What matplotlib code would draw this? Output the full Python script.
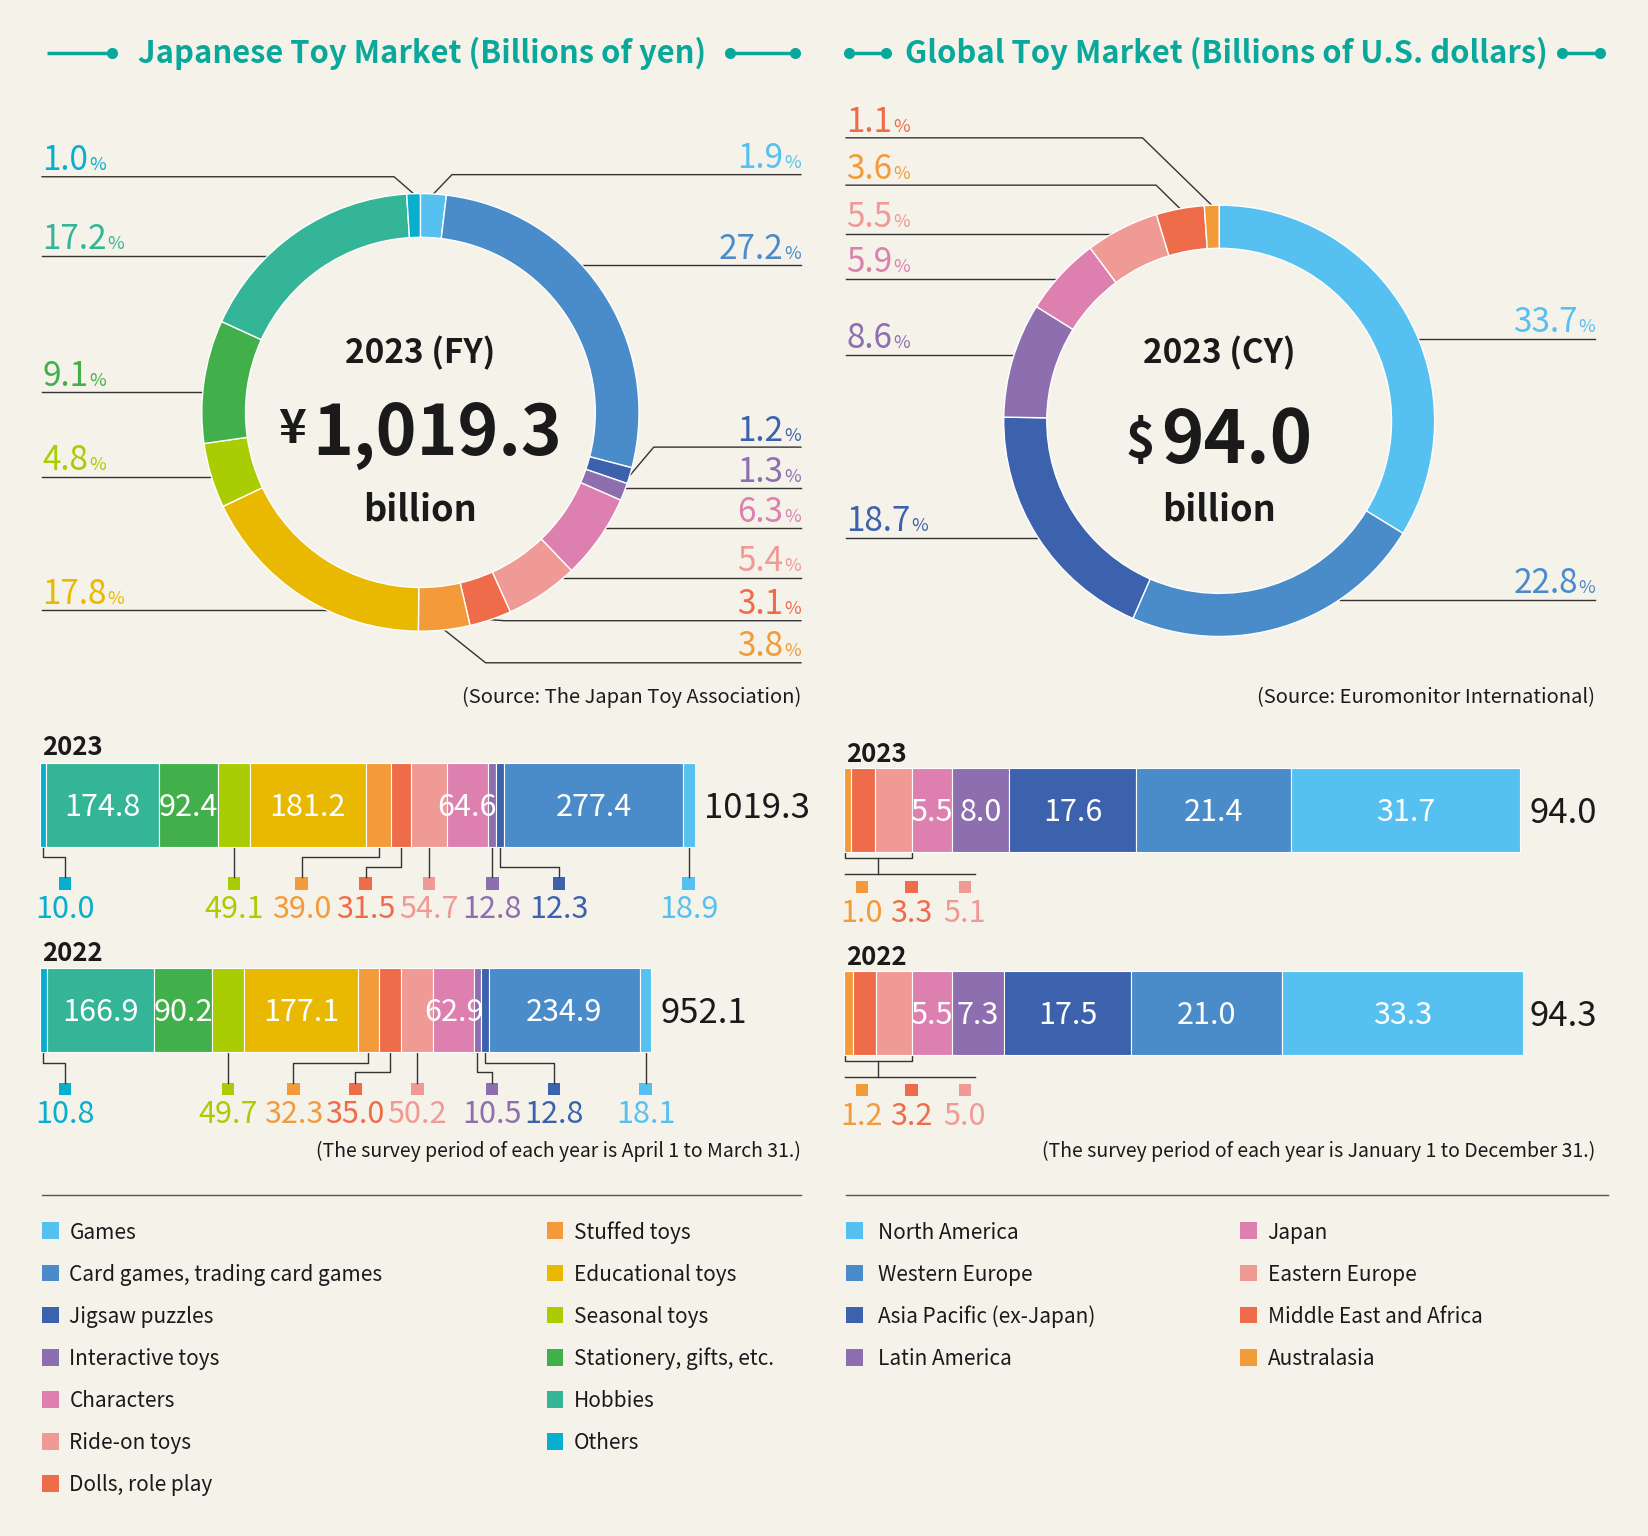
import numpy as np
import matplotlib
matplotlib.use('Agg')
import matplotlib.pyplot as plt
from matplotlib.patches import Rectangle

plt.rcParams['font.family'] = ['Noto Sans CJK JP', 'DejaVu Sans']

BG = '#F5F2EA'
TEAL = '#0AA89B'
INK = '#1a1a1a'
LINE = '#333333'

# ---------------- data: Japanese toy market ----------------
jp_cats = ['Games', 'Card games, trading card games', 'Jigsaw puzzles', 'Interactive toys',
           'Characters', 'Ride-on toys', 'Dolls, role play', 'Stuffed toys', 'Educational toys',
           'Seasonal toys', 'Stationery, gifts, etc.', 'Hobbies', 'Others']
jp_colors = ['#56C1F0', '#4A8CCA', '#3C62AE', '#8D6FAF', '#DD80B0', '#F09A96', '#EE6C4A',
             '#F39B3A', '#E9B800', '#AACC03', '#42B04A', '#35B597', '#07AECD']
jp_share = [1.9, 27.2, 1.2, 1.3, 6.3, 5.4, 3.1, 3.8, 17.8, 4.8, 9.1, 17.2, 1.0]
jp_2023 = [18.9, 277.4, 12.3, 12.8, 64.6, 54.7, 31.5, 39.0, 181.2, 49.1, 92.4, 174.8, 10.0]
jp_2022 = [18.1, 234.9, 12.8, 10.5, 62.9, 50.2, 35.0, 32.3, 177.1, 49.7, 90.2, 166.9, 10.8]
jp_totals = ['1019.3', '952.1']
jp_years = ['2023', '2022']

# ---------------- data: global toy market ----------------
gl_cats = ['North America', 'Western Europe', 'Asia Pacific (ex-Japan)', 'Latin America',
           'Japan', 'Eastern Europe', 'Middle East and Africa', 'Australasia']
gl_colors = ['#56C1F0', '#4A8CCA', '#3C62AE', '#8D6FAF', '#DD80B0', '#F09A96', '#EE6C4A', '#F39B3A']
gl_share = [33.7, 22.8, 18.7, 8.6, 5.9, 5.5, 3.6, 1.1]
gl_2023 = [31.7, 21.4, 17.6, 8.0, 5.5, 5.1, 3.3, 1.0]
gl_2022 = [33.3, 21.0, 17.5, 7.3, 5.5, 5.0, 3.2, 1.2]
gl_totals = ['94.0', '94.3']
gl_years = ['2023', '2022']

# ---------------- layout (page grid 1568 x 1460) ----------------
W, H = 1568, 1460
PX = W / 1648.0

# donut leader lines: (side, y of line, x of elbow or None)
jp_leaders = [('R', 166, 430), ('R', 252, None), ('R', 425, 622), ('R', 464, None),
              ('R', 502, None), ('R', 549, None), ('R', 590, 480), ('R', 630, 462),
              ('L', 580, None), ('L', 453, None), ('L', 373, None), ('L', 243, None),
              ('L', 168, 375)]
gl_leaders = [('R', 322, None), ('R', 570, None), ('L', 511, None), ('L', 337, None),
              ('L', 265, None), ('L', 222, None), ('L', 176, 1100), ('L', 131, 1087)]
gl_label_colors = gl_colors[:6] + [gl_colors[7], gl_colors[6]]  # as printed in the original

jp_inside = [1, 4, 8, 10, 11]
gl_inside = [0, 1, 2, 3, 4]
# small labels under the Japanese bars: index -> (label x, elbow level)
jp_below = [{12: (62, 1), 9: (None, 0), 7: (287, 1), 6: (348, 2), 5: (None, 0),
             3: (None, 0), 2: (532, 2), 0: (None, 0)},
            {12: (62, 1), 9: (None, 0), 7: (279, 1), 6: (338, 2), 5: (None, 0),
             3: (468, 2), 2: (527, 1), 0: (None, 0)}]
gl_group = [7, 6, 5]
gl_group_x = [820, 867, 918]

fig = plt.figure(figsize=(16.48, 15.36), dpi=100)
fig.patch.set_facecolor(BG)
pg = fig.add_axes([0, 0, 1, 1])
pg.set_xlim(0, W)
pg.set_ylim(H, 0)
pg.axis('off')
R = fig.canvas.get_renderer()


def cap(pt):
    # cap height of the font in page units
    return 0.733 * pt * 100 / 72 * PX


def width_of(t):
    return t.get_window_extent(R).width * PX


def to_page(ax, xy):
    return pg.transData.inverted().transform(ax.transData.transform(xy))


def page_axes(x0, y0, x1, y1):
    ax = fig.add_axes([x0 / W, 1 - y1 / H, (x1 - x0) / W, (y1 - y0) / H])
    ax.set_ylim(y1, y0)
    ax.axis('off')
    return ax


def pct_text(x, y, num, color, side):
    if side == 'L':
        t = pg.text(x, y, num, ha='left', va='baseline', fontsize=24, color=color)
        pg.text(x + width_of(t) + 1, y, '%', ha='left', va='baseline', fontsize=13, color=color)
    else:
        p = pg.text(x, y, '%', ha='right', va='baseline', fontsize=13, color=color)
        pg.text(x - width_of(p) - 1, y, num, ha='right', va='baseline', fontsize=24, color=color)


def title(cx, text, decos):
    y = 50
    pg.text(cx, 60, text, ha='center', va='baseline', fontsize=22.3, fontweight='bold', color=TEAL)
    for x0, x1, dots in decos:
        pg.plot([x0, x1], [y, y], color=TEAL, lw=2.5, solid_capstyle='butt')
        pg.plot(dots, [y] * len(dots), 'o', color=TEAL, ms=8, mew=0)


def donut(cx, cy, r, shares, colors, leaders, lab_colors, xl, xr):
    ax = fig.add_axes([(cx - r) / W, 1 - (cy + r) / H, 2 * r / W, 2 * r / H])
    ax.pie(shares, colors=colors, startangle=90, counterclock=False, radius=1,
           wedgeprops=dict(width=0.2, edgecolor='white', linewidth=1))
    ax.set_xlim(-1, 1)
    ax.set_ylim(-1, 1)
    ax.set_aspect('auto')
    ax.axis('off')
    c = to_page(ax, (0, 0))
    rp = to_page(ax, (1, 0))[0] - c[0]
    total = sum(shares)
    cum = 0
    for v, col, (side, ly, ex) in zip(shares, lab_colors, leaders):
        th = np.deg2rad(90 - 360 * (cum + v / 2) / total)
        cum += v
        xs = xl if side == 'L' else xr
        if ex is None:
            dx = np.sqrt(max(rp ** 2 - (ly - c[1]) ** 2, 0))
            xe = c[0] - dx if side == 'L' else c[0] + dx
            px, py = [xs, xe], [ly, ly]
        else:
            p = to_page(ax, (np.cos(th), np.sin(th)))
            px, py = [xs, ex, p[0]], [ly, ly, p[1]]
        pg.plot(px, py, color=LINE, lw=1)
        pct_text(xs, ly - 6, f'{v:.1f}', col, side)
    return c


def center_text(cx, head, sym, sym_pt, sym_base, num, num_pt, num_base):
    pg.text(cx, 345, head, ha='center', va='baseline', fontsize=24, fontweight='bold', color=INK)
    s = pg.text(0, sym_base, sym, ha='left', va='baseline', fontsize=sym_pt, fontweight='bold', color=INK)
    n = pg.text(0, num_base, num, ha='left', va='baseline', fontsize=num_pt, fontweight='bold', color=INK)
    ws, wn = width_of(s), width_of(n)
    x0 = cx - (ws + wn + 6) / 2
    s.set_x(x0)
    n.set_x(x0 + ws + 6)
    pg.text(cx, 495, 'billion', ha='center', va='baseline', fontsize=26, fontweight='bold', color=INK)


# ---------------- titles ----------------
title(402, 'Japanese Toy Market (Billions of yen)', [(45, 107, [107]), (695, 756, [695, 756])])
title(1167, 'Global Toy Market (Billions of U.S. dollars)', [(808, 843, [808, 843]), (1486, 1522, [1486, 1522])])

# ---------------- donuts ----------------
c1 = donut(400, 392, 208, jp_share, jp_colors, jp_leaders, jp_colors, 40, 762)
center_text(c1[0], '2023 (FY)', '¥', 34, 421, '1,019.3', 50, 432)
c2 = donut(1160, 400, 205, gl_share, gl_colors, gl_leaders, gl_label_colors, 805, 1518)
center_text(c2[0], '2023 (CY)', '$', 36, 435, '94.0', 52, 440)

pg.text(762, 661 + cap(14.5) / 2, '(Source: The Japan Toy Association)', ha='right', va='baseline',
        fontsize=14.5, color=INK)
pg.text(1518, 661 + cap(14.5) / 2, '(Source: Euromonitor International)', ha='right', va='baseline',
        fontsize=14.5, color=INK)

# ---------------- Japanese bars ----------------
bj = page_axes(38, 690, 661, 1070)
bj.set_xlim(0, max(sum(jp_2023), sum(jp_2022)))
for vals, yc, below, total, year in zip([jp_2023, jp_2022], [765, 960], jp_below, jp_totals, jp_years):
    order = list(range(len(vals)))[::-1]
    v = [vals[i] for i in order]
    left = np.concatenate([[0], np.cumsum(v)[:-1]])
    bj.barh(yc, v, left=left, height=80, color=[jp_colors[i] for i in order],
            edgecolor='white', linewidth=0.8)
    starts = dict(zip(order, left))
    for i in jp_inside:
        bj.text(starts[i] + vals[i] / 2, yc + cap(22) / 2, f'{vals[i]:.1f}', ha='center',
                va='baseline', fontsize=22, color='white', clip_on=False)
    bot = yc + 40
    for i, (lx, lev) in below.items():
        sx = to_page(bj, (starts[i] + vals[i] / 2, yc))[0]
        if lx is None:
            lx = sx
        if lev == 0:
            px, py = [sx, sx], [bot, bot + 29]
        else:
            ey = bot + (0, 10, 19)[lev]
            px, py = [sx, sx, lx, lx], [bot, ey, ey, bot + 29]
        pg.plot(px, py, color=LINE, lw=1)
        pg.add_patch(Rectangle((lx - 6, bot + 29), 12, 12, color=jp_colors[i], lw=0))
        pg.text(lx, bot + 57 + cap(22) / 2, f'{vals[i]:.1f}', ha='center', va='baseline',
                fontsize=22, color=jp_colors[i])
    xe = to_page(bj, (sum(vals), yc))[0]
    pg.text(xe + 9, yc + cap(25) / 2, total, ha='left', va='baseline', fontsize=25, color=INK)
    pg.text(40, yc - 47, year, ha='left', va='baseline', fontsize=18.5, fontweight='bold', color=INK)

# ---------------- global bars ----------------
gb = page_axes(803, 690, 1449, 1070)
gb.set_xlim(0, max(sum(gl_2023), sum(gl_2022)))
for vals, yc, total, year in zip([gl_2023, gl_2022], [770, 963], gl_totals, gl_years):
    order = list(range(len(vals)))[::-1]
    v = [vals[i] for i in order]
    left = np.concatenate([[0], np.cumsum(v)[:-1]])
    gb.barh(yc, v, left=left, height=80, color=[gl_colors[i] for i in order],
            edgecolor='white', linewidth=0.8)
    starts = dict(zip(order, left))
    for i in gl_inside:
        gb.text(starts[i] + vals[i] / 2, yc + cap(22) / 2, f'{vals[i]:.1f}', ha='center',
                va='baseline', fontsize=22, color='white', clip_on=False)
    bot = yc + 40
    x0 = to_page(gb, (0, yc))[0]
    x1 = to_page(gb, (sum(vals[i] for i in gl_group), yc))[0]
    xm = (x0 + x1) / 2
    pg.plot([x0 + 1, x0 + 1, x1, x1], [bot, bot + 5.5, bot + 5.5, bot], color=LINE, lw=1)
    pg.plot([xm, xm], [bot + 5.5, bot + 21], color=LINE, lw=1)
    pg.plot([x0 + 1, 928], [bot + 21, bot + 21], color=LINE, lw=1)
    for i, lx in zip(gl_group, gl_group_x):
        pg.add_patch(Rectangle((lx - 6, bot + 27), 12, 12, color=gl_colors[i], lw=0))
        pg.text(lx, bot + 56 + cap(22) / 2, f'{vals[i]:.1f}', ha='center', va='baseline',
                fontsize=22, color=gl_colors[i])
    pg.text(1455, yc + cap(25) / 2, total, ha='left', va='baseline', fontsize=25, color=INK)
    pg.text(805, yc - 46, year, ha='left', va='baseline', fontsize=18.5, fontweight='bold', color=INK)

pg.text(762, 1093 + cap(14) / 2, '(The survey period of each year is April 1 to March 31.)',
        ha='right', va='baseline', fontsize=14, color=INK)
pg.text(1518, 1093 + cap(14) / 2, '(The survey period of each year is January 1 to December 31.)',
        ha='right', va='baseline', fontsize=14, color=INK)

pg.plot([40, 762], [1136, 1136], color='#555555', lw=1)
pg.plot([805, 1530], [1136, 1136], color='#555555', lw=1)


# ---------------- legends ----------------
def legend(names, colors, x_sq, x_txt, per_col):
    for k, (name, col) in enumerate(zip(names, colors)):
        c, r = divmod(k, per_col)
        y = 1170 + 40 * r
        pg.add_patch(Rectangle((x_sq[c], y - 8), 16, 16, color=col, lw=0))
        pg.text(x_txt[c], y + cap(15) / 2, name, ha='left', va='baseline', fontsize=15, color=INK)


legend(jp_cats, jp_colors, [40, 520], [66, 546], 7)
legend(gl_cats, gl_colors, [805, 1180], [835, 1206], 4)

fig.savefig('out.png', dpi=100, facecolor=BG)
